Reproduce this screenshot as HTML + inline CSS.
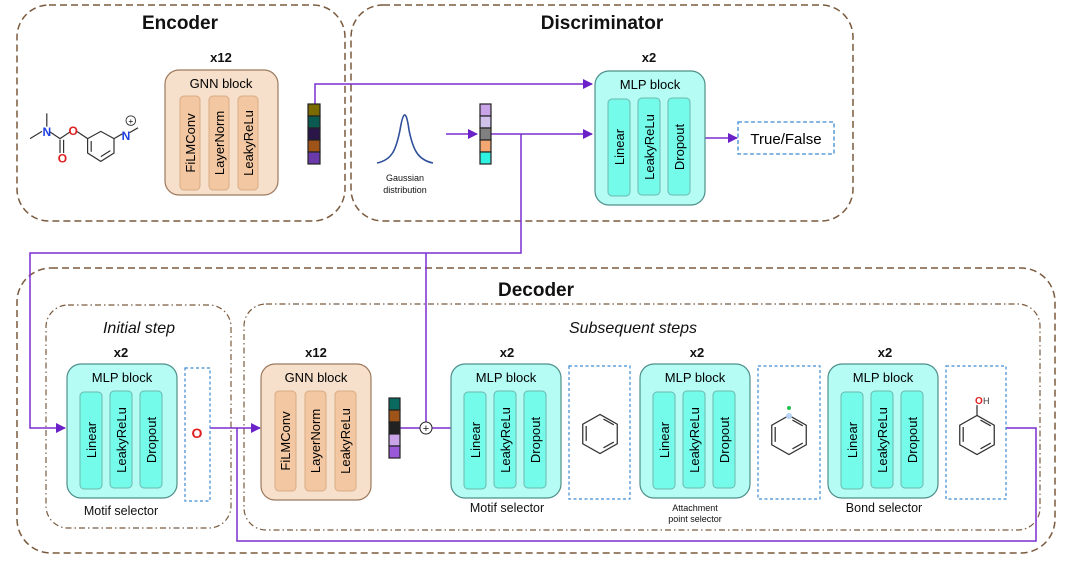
<!DOCTYPE html>
<html><head><meta charset="utf-8"><style>
html,body{margin:0;padding:0;background:#fff}
svg{display:block;font-family:"Liberation Sans",Arial,sans-serif}
</style></head><body>
<svg width="1080" height="564" viewBox="0 0 1080 564" xmlns="http://www.w3.org/2000/svg">
<defs>
<marker id="ar" markerWidth="10" markerHeight="10" refX="9" refY="5" orient="auto" markerUnits="userSpaceOnUse"><path d="M0,0 L10,5 L0,10 z" fill="#6a22c8"/></marker>
</defs>
<g fill="none" stroke="#7a5a3e" stroke-width="1.5" stroke-dasharray="7,4">
<rect x="17" y="5" width="328" height="216" rx="32"/>
<rect x="351" y="5" width="502" height="216" rx="32"/>
<rect x="17" y="268" width="1038" height="285" rx="34"/>
</g>
<g fill="none" stroke="#7a5a3e" stroke-width="1.2" stroke-dasharray="6,3,1.5,3">
<rect x="46" y="305" width="185" height="223" rx="22"/>
<rect x="244" y="304" width="796" height="226" rx="22"/>
</g>
<g font-weight="bold" font-size="19" text-anchor="middle" fill="#111">
<text x="180" y="29">Encoder</text>
<text x="602" y="29">Discriminator</text>
<text x="536" y="296">Decoder</text>
</g>
<g font-style="italic" font-size="16" text-anchor="middle" fill="#111">
<text x="139" y="333">Initial step</text>
<text x="633" y="333">Subsequent steps</text>
</g>
<g font-weight="bold" font-size="13" text-anchor="middle" fill="#111">
<text x="221" y="62">x12</text>
<text x="649" y="62">x2</text>
<text x="121" y="357">x2</text>
<text x="316" y="357">x12</text>
<text x="507" y="357">x2</text>
<text x="697" y="357">x2</text>
<text x="885" y="357">x2</text>
</g>

<g fill="none" stroke="#7b2fd0" stroke-width="1.5">
<path d="M315,104 V84 H592" marker-end="url(#ar)"/>
<path d="M446,134 H477" marker-end="url(#ar)"/>
<path d="M491,134 H592" marker-end="url(#ar)"/>
<path d="M705,138 H737" marker-end="url(#ar)"/>
<path d="M521,134 V253 H30 V428 H65" marker-end="url(#ar)"/>
<path d="M426,253 V422"/>
<path d="M210,428 H260" marker-end="url(#ar)"/>
<path d="M400,428 H420 M432,428 H451"/>
<path d="M1006,428 H1036 V541 H237 V428"/>
</g>
<circle cx="426" cy="428" r="6" fill="#fff" stroke="#222" stroke-width="1"/>
<text x="426" y="432" font-size="11" text-anchor="middle" fill="#111">+</text>

<g>
<rect x="165" y="70" width="113" height="125" rx="14" fill="#f7e0cb" stroke="#9c7a5e" stroke-width="1.2"/>
<text x="221" y="88" font-size="13" text-anchor="middle">GNN block</text>
<rect x="180" y="96" width="20" height="94" rx="4" fill="#f2c7a2" stroke="#d8ab85"/>
<rect x="209" y="96" width="20" height="94" rx="4" fill="#f2c7a2" stroke="#d8ab85"/>
<rect x="238" y="96" width="20" height="94" rx="4" fill="#f2c7a2" stroke="#d8ab85"/>
<g font-size="13" text-anchor="middle"><text transform="translate(195,143) rotate(-90)">FiLMConv</text><text transform="translate(224,143) rotate(-90)">LayerNorm</text><text transform="translate(253,143) rotate(-90)">LeakyReLu</text></g>
</g>
<g>
<rect x="261" y="364" width="110" height="136" rx="14" fill="#f7e0cb" stroke="#9c7a5e" stroke-width="1.2"/>
<text x="316" y="382" font-size="13" text-anchor="middle">GNN block</text>
<rect x="275" y="391" width="21" height="100" rx="4" fill="#f2c7a2" stroke="#d8ab85"/>
<rect x="305" y="391" width="21" height="100" rx="4" fill="#f2c7a2" stroke="#d8ab85"/>
<rect x="335" y="391" width="21" height="100" rx="4" fill="#f2c7a2" stroke="#d8ab85"/>
<g font-size="13" text-anchor="middle"><text transform="translate(290,441) rotate(-90)">FiLMConv</text><text transform="translate(320,441) rotate(-90)">LayerNorm</text><text transform="translate(350,441) rotate(-90)">LeakyReLu</text></g>
</g>

<g id="m1">
<rect x="595" y="71" width="110" height="134" rx="14" fill="#b4fcf4" stroke="#4d8f8a" stroke-width="1.2"/>
<text x="650" y="89" font-size="13" text-anchor="middle">MLP block</text>
<rect x="608" y="99" width="22" height="97" rx="4" fill="#74fbea" stroke="#6cb8b0"/>
<rect x="638" y="98" width="22" height="97" rx="4" fill="#74fbea" stroke="#6cb8b0"/>
<rect x="668" y="98" width="22" height="97" rx="4" fill="#74fbea" stroke="#6cb8b0"/>
<g font-size="13" text-anchor="middle"><text transform="translate(624,147) rotate(-90)">Linear</text><text transform="translate(654,147) rotate(-90)">LeakyReLu</text><text transform="translate(684,147) rotate(-90)">Dropout</text></g>
</g>
<use href="#m1" transform="translate(-528,293)"/>
<use href="#m1" transform="translate(-144,293)"/>
<use href="#m1" transform="translate(45,293)"/>
<use href="#m1" transform="translate(233,293)"/>

<rect x="738" y="122" width="96" height="32" fill="#fff" stroke="#3d8ad0" stroke-width="1.3" stroke-dasharray="4,2.5"/>
<text x="786" y="144" font-size="15" text-anchor="middle">True/False</text>

<g fill="none" stroke="#3d8ad0" stroke-width="1.2" stroke-dasharray="3,2.5">
<rect x="185" y="368" width="25" height="133"/>
<rect x="569" y="366" width="61" height="133"/>
<rect x="758" y="366" width="62" height="133"/>
<rect x="946" y="366" width="60" height="133"/>
</g>
<text x="197" y="438" font-size="14" font-weight="bold" fill="#e02020" text-anchor="middle">O</text>

<g font-size="12.5" text-anchor="middle" fill="#111">
<text x="121" y="515">Motif selector</text>
<text x="507" y="512">Motif selector</text>
<text x="884" y="512">Bond selector</text>
</g>
<g font-size="9" text-anchor="middle" fill="#111">
<text x="695" y="511">Attachment</text>
<text x="695" y="522">point selector</text>
<text x="405" y="181">Gaussian</text>
<text x="405" y="193">distribution</text>
</g>

<g stroke="#222" stroke-width="1.2">
<rect x="308" y="104" width="12" height="12" fill="#7a6a00"/>
<rect x="308" y="116" width="12" height="12" fill="#0b5a52"/>
<rect x="308" y="128" width="12" height="12" fill="#2a1648"/>
<rect x="308" y="140" width="12" height="12" fill="#9e5318"/>
<rect x="308" y="152" width="12" height="12" fill="#6a3aa8"/>
<rect x="480" y="104" width="11" height="12" fill="#c9a4e8"/>
<rect x="480" y="116" width="11" height="12" fill="#cfc1ea"/>
<rect x="480" y="128" width="11" height="12" fill="#808080"/>
<rect x="480" y="140" width="11" height="12" fill="#f2a772"/>
<rect x="480" y="152" width="11" height="12" fill="#2ff1e2"/>
<rect x="389" y="398" width="11" height="12" fill="#0b6a60"/>
<rect x="389" y="410" width="11" height="12" fill="#9e5318"/>
<rect x="389" y="422" width="11" height="12" fill="#222"/>
<rect x="389" y="434" width="11" height="12" fill="#c9a4e8"/>
<rect x="389" y="446" width="11" height="12" fill="#9b59d9"/>
</g>

<path d="M377,163 C392,160 396,150 400,130 C403,112 406,108 409,130 C413,150 418,160 433,163" fill="none" stroke="#2f4f9a" stroke-width="1.6"/>

<!-- molecule encoder, scaled up -->
<g transform="translate(30,105) scale(1.2) translate(-30,-105)">
<g stroke="#333" stroke-width="1" fill="none">
<path d="M30,133 L40,127 M44,123 V112 M46,127 L55,133 L64,127 M55,134 V145 M58,134 V145"/>
<path d="M69,127 L78,133 L78,145 L89,152 L100,145 L100,133 L89,127 L78,133"/>
<path d="M81,135 V144 M89,148 L97,143"/>
<path d="M100,133 L107,129 M113,128 L120,124"/>
</g>
<text x="44" y="131" font-size="10" fill="#2040e0" text-anchor="middle" font-weight="bold">N</text>
<text x="66" y="130" font-size="10" fill="#e02020" text-anchor="middle" font-weight="bold">O</text>
<text x="57" y="153" font-size="10" fill="#e02020" text-anchor="middle" font-weight="bold">O</text>
<text x="110" y="134" font-size="10" fill="#2040e0" text-anchor="middle" font-weight="bold">N</text>
<circle cx="114" cy="118" r="4" fill="none" stroke="#333" stroke-width="0.8"/>
<text x="114" y="121" font-size="7" text-anchor="middle">+</text>
</g>

<g stroke="#333" stroke-width="1.1" fill="none">
<g transform="translate(600,434) scale(1.15) translate(-600,-434)">
<polygon points="600,417 615,425.5 615,442.5 600,451 585,442.5 585,425.5"/>
<path d="M603,421 L612,426 M612,441 L603,446 M588,440 V427"/>
</g>
<g transform="translate(789,435) scale(1.15) translate(-789,-435)">
<polygon points="789,418 804,426.5 804,443.5 789,452 774,443.5 774,426.5"/>
<path d="M792,422 L801,427 M801,442 L792,447 M777,441 V428"/>
</g>
<g transform="translate(977,435) scale(1.15) translate(-977,-435)">
<polygon points="977,418 992,426.5 992,443.5 977,452 962,443.5 962,426.5"/>
<path d="M980,422 L989,427 M989,442 L980,447 M965,441 V428"/>
<path d="M977,418 V409"/>
</g>
</g>
<circle cx="789" cy="416" r="3" fill="#b8d4f5"/>
<circle cx="789" cy="408" r="2" fill="#20c050"/>
<text x="975" y="404" font-size="10" fill="#e02020" font-weight="bold">O</text>
<text x="983" y="404" font-size="9" fill="#333">H</text>
</svg>
</body></html>
